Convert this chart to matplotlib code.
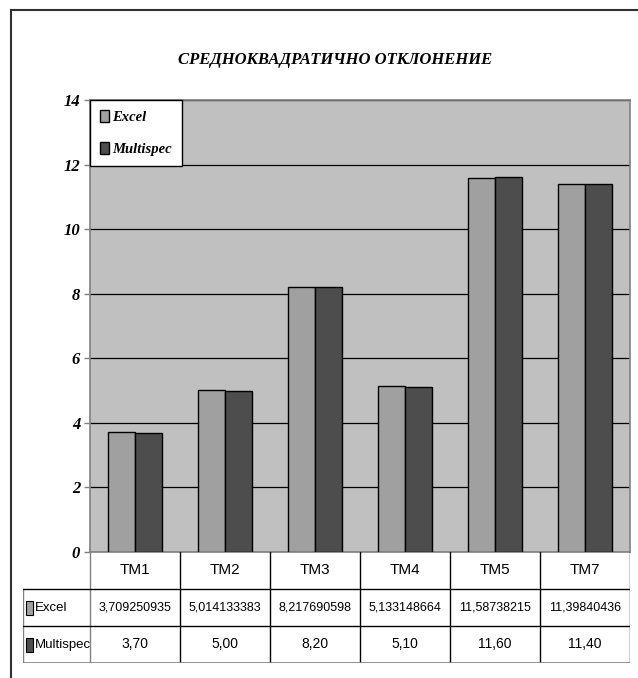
import numpy as np
import matplotlib.pyplot as plt
from matplotlib.lines import Line2D
from matplotlib.patches import Rectangle

# data
categories = ['TM1', 'TM2', 'TM3', 'TM4', 'TM5', 'TM7']
excel = [3.709250935, 5.014133383, 8.217690598, 5.133148664, 11.58738215, 11.39840436]
multispec = [3.70, 5.00, 8.20, 5.10, 11.60, 11.40]
excel_txt = ['3,709250935', '5,014133383', '8,217690598', '5,133148664', '11,58738215', '11,39840436']
multispec_txt = ['3,70', '5,00', '8,20', '5,10', '11,60', '11,40']
series = ['Excel', 'Multispec']
title = 'СРЕДНОКВАДРАТИЧНО ОТКЛОНЕНИЕ'
yticks = [0, 2, 4, 6, 8, 10, 12, 14]

c_excel = '#a0a0a0'
c_multi = '#4d4d4d'

W, H = 638, 678
fig = plt.figure(figsize=(W / 100, H / 100), dpi=100)


def box(x0, y0, x1, y1):
    # pixel box (top-left origin) -> figure fraction rect
    return [x0 / W, 1 - y1 / H, (x1 - x0) / W, (y1 - y0) / H]


serif = dict(family=['Liberation Serif', 'DejaVu Serif'], weight='bold', style='italic')
narrow = ['Liberation Sans Narrow', 'Liberation Sans', 'DejaVu Sans']

# outer chart frame (only left and top visible)
fig.add_artist(Line2D([11 / W, 11 / W], [0, 1 - 10 / H], color='#303030', lw=1.5))
fig.add_artist(Line2D([11 / W, 1], [1 - 10 / H, 1 - 10 / H], color='#303030', lw=1.5))

fig.text(335 / W, 1 - 60 / H, title, ha='center', va='center', fontsize=12, **serif)

ax = fig.add_axes(box(90, 100, 630, 552))
ax.set_facecolor('#c0c0c0')
x = np.arange(len(categories))
w = 0.3
ax.bar(x - w / 2, excel, w, color=c_excel, edgecolor='black', lw=1, label=series[0], zorder=3)
ax.bar(x + w / 2, multispec, w, color=c_multi, edgecolor='black', lw=1, label=series[1], zorder=3)
ax.set_xlim(-0.5, len(categories) - 0.5)
ax.set_ylim(0, 14)
ax.set_yticks(yticks)
ax.set_yticklabels([str(t) for t in yticks], fontsize=12, **serif)
ax.set_xticks([])
ax.yaxis.grid(True, color='black', lw=0.9, zorder=1)
ax.tick_params(axis='y', direction='out', length=4, width=1, color='#808080', pad=3)
for s in ax.spines.values():
    s.set_color('#808080')
    s.set_linewidth(1.2)

leg = ax.legend(loc='upper left', bbox_to_anchor=(0, 1), borderaxespad=0, fancybox=False,
                edgecolor='black', framealpha=1, handlelength=0.6, handleheight=0.9,
                handletextpad=0.2, labelspacing=1.2, borderpad=0.7,
                prop=dict(size=10.5, **serif))
leg.get_frame().set_linewidth(1)

# data table under the plot
tx = fig.add_axes(box(23, 552, 630, 663))
xl = -0.5 - 67 / 90
tx.set_xlim(xl, len(categories) - 0.5)
tx.set_ylim(3, 0)
tx.axis('off')
n = len(categories)
for b in np.arange(-0.5, n, 1.0):
    tx.plot([b, b], [0, 3], color='black' if b > -0.5 else '#808080', lw=1)
tx.plot([xl, xl], [1, 3], color='#808080', lw=1)
for r in (1, 2):
    tx.plot([xl, n - 0.5], [r, r], color='black', lw=1)
tx.plot([xl, n - 0.5], [3, 3], color='#808080', lw=1.2)

for i, c in enumerate(categories):
    tx.text(i, 0.5, c, ha='center', va='center', fontsize=11, family=narrow)
    tx.text(i, 1.5, excel_txt[i], ha='center', va='center', fontsize=9, family=narrow)
    tx.text(i, 2.5, multispec_txt[i], ha='center', va='center', fontsize=10, family=narrow)

for r, (name, col) in enumerate(zip(series, [c_excel, c_multi])):
    tx.add_patch(Rectangle((xl + 0.03, r + 1.33), 0.08, 0.36, facecolor=col,
                           edgecolor='black', lw=0.8))
    tx.text(xl + 0.13, r + 1.52, name, ha='left', va='center', fontsize=9.5, family=narrow)

fig.savefig('out.png', dpi=100)
